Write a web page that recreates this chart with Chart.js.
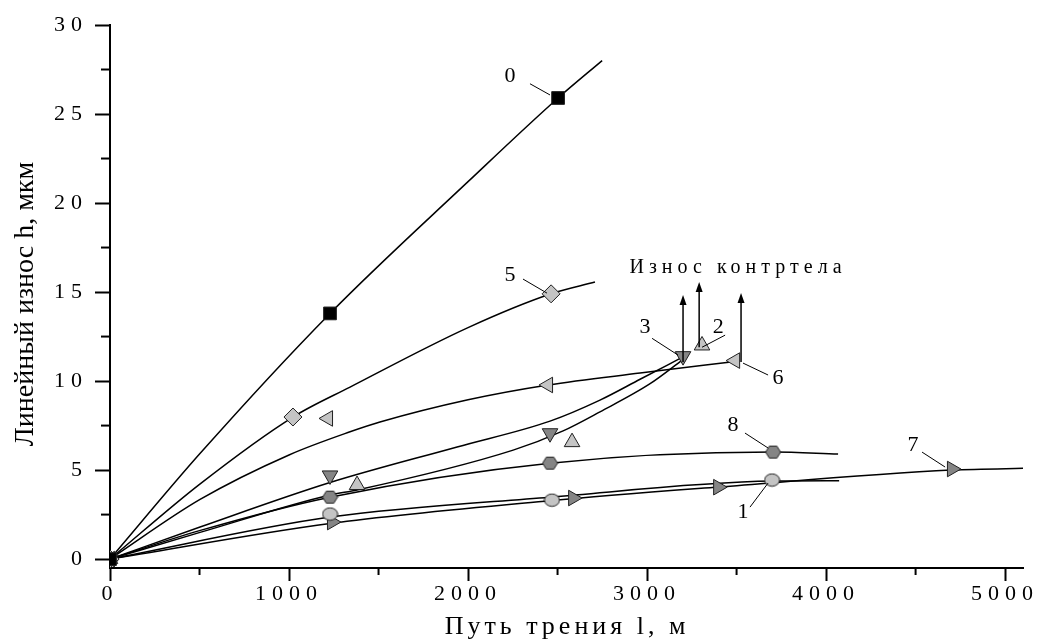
<!DOCTYPE html>
<html>
<head>
<meta charset="utf-8">
<script src="https://cdn.jsdelivr.net/npm/chart.js@4/dist/chart.umd.min.js"></script>
<style>
    html, body { margin: 0; padding: 0; background: #fff; }
    #caixa { width: 1041px; height: 641px; }
</style>
</head>
<body>
<div id="caixa"><canvas id="grafic-desgast"></canvas></div>
<script>
// eixos
const ticsX = [0, 1000, 2000, 3000, 4000, 5000];
const ticsY = [0, 5, 10, 15, 20, 25, 30];

// corbes ajustades (llegides de la figura)
const corba0X = [0, 500, 1229, 2000, 2503, 2749];
const corba0Y = [0, 5.9, 13.8, 21.2, 25.9, 28.0];
const corba5X = [0, 500, 1022, 1341, 2000, 2464, 2709];
const corba5Y = [0, 4.2, 7.98, 9.66, 13.0, 14.9, 15.56];
const corba6X = [0, 503, 1000, 1341, 1508, 2000, 2447, 2961, 3492];
const corba6Y = [0, 3.35, 5.85, 7.15, 7.7, 8.95, 9.78, 10.45, 11.1];
const corba3X = [0, 503, 1229, 1939, 2458, 2737, 2961, 3190];
const corba3Y = [0, 1.8, 4.3, 6.3, 7.75, 8.93, 10.1, 11.3];
const corba2X = [0, 503, 1229, 1380, 2252, 2531, 2737, 3017, 3200];
const corba2Y = [0, 1.5, 3.6, 3.88, 6.12, 7.2, 8.27, 9.85, 11.2];
const corba8X = [0, 500, 1229, 2458, 3704, 4067];
const corba8Y = [0, 1.6, 3.48, 5.39, 6.01, 5.9];
const corba1X = [0, 1229, 2458, 3700, 4073];
const corba1Y = [0, 2.36, 3.48, 4.38, 4.4];
const corba7X = [0, 1229, 2458, 3400, 4700, 5156];
const corba7Y = [0, 2.0, 3.28, 4.05, 5.0, 5.11];

// punts experimentals
const punts0X = [0, 1229, 2503];
const punts0Y = [0, 13.8, 25.9];
const punts5X = [0, 1022, 2464];
const punts5Y = [0, 7.98, 14.9];
const punts6X = [0, 1218, 2447, 3492];
const punts6Y = [0, 7.9, 9.78, 11.15];
const punts3X = [0, 1229, 2458, 3201];
const punts3Y = [0, 4.7, 7.07, 11.4];
const punts2X = [0, 1380, 2581, 3307];
const punts2Y = [0, 4.16, 6.57, 12.0];
const punts8X = [0, 1229, 2458, 3704];
const punts8Y = [0, 3.48, 5.39, 6.01];
const punts1X = [0, 1229, 2469, 3698];
const punts1Y = [0, 2.53, 3.31, 4.44];
const punts7X = [0, 1240, 2587, 3397, 4703];
const punts7Y = [0, 2.08, 3.43, 4.04, 5.06];

// etiquetes de les corbes: text, posició del text, inici i final de la línia guia
const etiquetes = [
    { text: '0', x: 2235, y: 27.1, l: [2346, 26.7, 2458, 26.07] },
    { text: '5', x: 2235, y: 15.96, l: [2307, 15.73, 2441, 14.94] },
    { text: '3', x: 2989, y: 13.03, l: [3028, 12.4, 3173, 11.46] },
    { text: '2', x: 3397, y: 13.03, l: [3436, 12.58, 3307, 11.9] },
    { text: '6', x: 3732, y: 10.17, l: [3536, 11.01, 3676, 10.34] },
    { text: '8', x: 3480, y: 7.53, l: [3547, 7.08, 3676, 6.24] },
    { text: '7', x: 4486, y: 6.4, l: [4536, 6.01, 4665, 5.17] },
    { text: '1', x: 3536, y: 2.64, l: [3575, 2.92, 3676, 4.27] }
];
// fletxes "Износ контртела"
const fletxesX = [3201, 3291, 3525];
const fletxesDe = [11.07, 11.9, 11.07];
const fletxesA = [14.83, 15.56, 14.94];

const parells = (xs, ys) => xs.map((v, i) => ({ x: v, y: ys[i] }));

const CLAR = '#c4c4c4';
const FOSC = '#858585';
const VORA = '#202020';

function hexagon() {
    const c = document.createElement('canvas');
    c.width = 17; c.height = 15;
    const g = c.getContext('2d');
    g.beginPath();
    const cx = 8.5, cy = 7.5, r = 7.5;
    for (let i = 0; i < 6; i++) {
        const a = Math.PI / 3 * i;
        const px = cx + r * Math.cos(a), py = cy + r * Math.sin(a) * 0.92;
        if (i === 0) g.moveTo(px, py); else g.lineTo(px, py);
    }
    g.closePath();
    g.fillStyle = FOSC; g.fill();
    g.strokeStyle = VORA; g.lineWidth = 1; g.stroke();
    return c;
}

function el·lipse() {
    const c = document.createElement('canvas');
    c.width = 17; c.height = 15;
    const g = c.getContext('2d');
    g.beginPath();
    g.ellipse(8.5, 7.5, 7.5, 6.2, 0, 0, Math.PI * 2);
    g.fillStyle = CLAR; g.fill();
    g.strokeStyle = VORA; g.lineWidth = 1; g.stroke();
    return c;
}

function punts(xs, ys, estil, color, radi, rotacio) {
    return {
        data: parells(xs, ys),
        showLine: false,
        pointStyle: estil,
        pointRadius: radi,
        pointRotation: rotacio || 0,
        pointBackgroundColor: color,
        pointBorderColor: VORA,
        pointBorderWidth: 1,
        order: 1
    };
}

function corba(xs, ys) {
    return {
        data: parells(xs, ys),
        showLine: true,
        borderColor: '#000',
        borderWidth: 1.5,
        pointRadius: 0,
        cubicInterpolationMode: 'monotone',
        order: 2
    };
}

const anotacions = {
    id: 'anotacions',
    beforeDraw(chart) {
        chart.ctx.letterSpacing = '6px';
    },
    beforeDatasetsDraw(chart) {
        chart.ctx.letterSpacing = '0px';
        const { ctx, scales: { x, y } } = chart;
        ctx.save();
        ctx.strokeStyle = '#000';
        ctx.lineWidth = 2;
        // tics menors
        for (let v = 500; v < 5100; v += 1000) {
            const px = x.getPixelForValue(v);
            ctx.beginPath();
            ctx.moveTo(px, y.bottom);
            ctx.lineTo(px, y.bottom + 7);
            ctx.stroke();
        }
        for (let v = 2.5; v < 30; v += 5) {
            const py = y.getPixelForValue(v);
            ctx.beginPath();
            ctx.moveTo(x.left, py);
            ctx.lineTo(x.left - 9, py);
            ctx.stroke();
        }
        ctx.restore();
    },
    afterDatasetsDraw(chart) {
        const { ctx, scales: { x, y } } = chart;
        ctx.save();
        ctx.fillStyle = '#000';
        ctx.strokeStyle = '#000';
        ctx.font = '22px "Liberation Serif"';
        ctx.textAlign = 'center';
        ctx.textBaseline = 'middle';
        ctx.lineWidth = 1;
        etiquetes.forEach(e => {
            ctx.fillText(e.text, x.getPixelForValue(e.x), y.getPixelForValue(e.y));
            ctx.beginPath();
            ctx.moveTo(x.getPixelForValue(e.l[0]), y.getPixelForValue(e.l[1]));
            ctx.lineTo(x.getPixelForValue(e.l[2]), y.getPixelForValue(e.l[3]));
            ctx.stroke();
        });
        // fletxes
        ctx.lineWidth = 1.5;
        fletxesX.forEach((v, i) => {
            const px = x.getPixelForValue(v);
            const p1 = y.getPixelForValue(fletxesDe[i]);
            const p2 = y.getPixelForValue(fletxesA[i]);
            ctx.beginPath();
            ctx.moveTo(px, p1);
            ctx.lineTo(px, p2 + 8);
            ctx.stroke();
            ctx.beginPath();
            ctx.moveTo(px, p2);
            ctx.lineTo(px - 3.5, p2 + 10);
            ctx.lineTo(px + 3.5, p2 + 10);
            ctx.closePath();
            ctx.fill();
        });
        ctx.font = '20px "Liberation Serif"';
        ctx.letterSpacing = '5px';
        ctx.fillText('Износ контртела', x.getPixelForValue(3508), y.getPixelForValue(16.35));

        // títols dels eixos
        ctx.font = '26px "Liberation Serif"';
        ctx.letterSpacing = '4px';
        ctx.fillText('Путь трения l, м', 567, 627);
        ctx.letterSpacing = '0px';
        ctx.font = '28px "Liberation Serif"';
        ctx.translate(33, 304);
        ctx.rotate(-Math.PI / 2);
        ctx.textBaseline = 'alphabetic';
        ctx.fillText('Линейный износ h, мкм', 0, 0);
        ctx.restore();
    }
};

const llenç = document.getElementById('grafic-desgast');
new Chart(llenç.getContext('2d'), {
    type: 'scatter',
    data: {
        datasets: [
            punts(punts0X, punts0Y, 'rect', '#000', 9),
            punts(punts5X, punts5Y, 'rectRot', CLAR, 9),
            punts(punts6X, punts6Y, 'triangle', CLAR, 9, -90),
            punts(punts3X, punts3Y, 'triangle', FOSC, 9, 180),
            punts(punts2X, punts2Y, 'triangle', CLAR, 9),
            punts(punts8X, punts8Y, hexagon(), FOSC, 8),
            punts(punts1X, punts1Y, el·lipse(), CLAR, 8),
            punts(punts7X, punts7Y, 'triangle', FOSC, 9, 90),
            corba(corba0X, corba0Y),
            corba(corba5X, corba5Y),
            corba(corba6X, corba6Y),
            corba(corba3X, corba3Y),
            corba(corba2X, corba2Y),
            corba(corba8X, corba8Y),
            corba(corba1X, corba1Y),
            corba(corba7X, corba7Y)
        ]
    },
    options: {
        responsive: true,
        maintainAspectRatio: false,
        animation: false,
        layout: { padding: { top: 25, right: 18, left: 0, bottom: 0 } },
        plugins: {
            legend: { display: false },
            tooltip: { enabled: false }
        },
        scales: {
            x: {
                type: 'linear',
                min: 0,
                max: 5100,
                afterBuildTicks: s => { s.ticks = ticsX.map(v => ({ value: v })); },
                afterFit: s => { s.height = 73; },
                border: { display: true, color: '#000', width: 2 },
                grid: { drawOnChartArea: false, drawTicks: true, tickLength: 13, tickColor: '#000', tickWidth: 2 },
                ticks: { color: '#000', padding: 0, maxRotation: 0, callback: v => String(v), font: { family: 'Liberation Serif', size: 22 } }
            },
            y: {
                type: 'linear',
                min: -0.5,
                max: 30,
                afterBuildTicks: s => { s.ticks = ticsY.map(v => ({ value: v })); },
                afterFit: s => { s.width = 110; },
                border: { display: true, color: '#000', width: 2 },
                grid: { drawOnChartArea: false, drawTicks: true, tickLength: 15, tickColor: '#000', tickWidth: 2 },
                ticks: { color: '#000', padding: 7, callback: v => String(v), font: { family: 'Liberation Serif', size: 22 } }
            }
        }
    },
    plugins: [anotacions]
});
</script>
</body>
</html>
